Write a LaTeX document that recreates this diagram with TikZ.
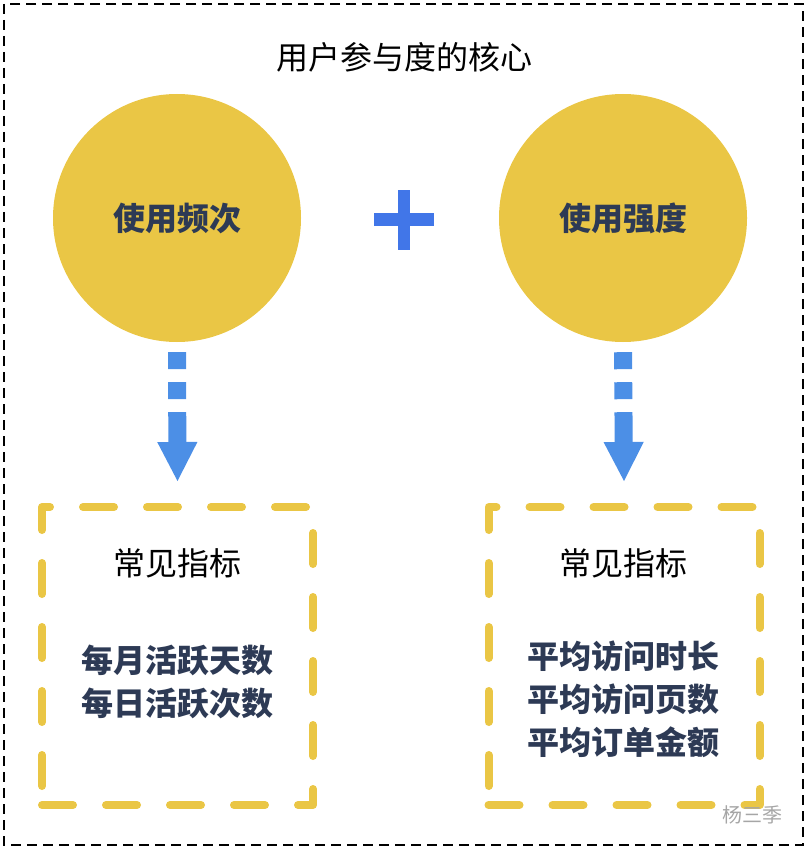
\documentclass[tikz,border=0pt]{standalone}
\usepackage{fontspec}
\newfontfamily\cjk{Noto Sans CJK SC}
\usetikzlibrary{arrows.meta}
\definecolor{coreyellow}{HTML}{EAC645}
\definecolor{corenavy}{HTML}{2D3A55}
\definecolor{plusblue}{HTML}{4176E8}
\definecolor{flowblue}{HTML}{4C8FE6}

\begin{document}
\begin{tikzpicture}[x=1pt,y=-1pt,font=\cjk\fontsize{32}{38}\selectfont,
  core/.style={circle,fill=coreyellow,minimum size=248pt,inner sep=0pt,
    text=corenavy,font=\cjk\bfseries\fontsize{32}{38}\selectfont},
  metricbox/.style={draw=coreyellow,line width=8pt,line cap=round,line join=round,
    dash pattern=on 31pt off 33pt,minimum width=271pt,minimum height=298pt},
  metrics/.style={align=center,text=corenavy,font=\cjk\bfseries\fontsize{32}{43}\selectfont},
  flow/.style={draw=flowblue,line width=18pt,
    dash pattern=on 17pt off 13pt on 17pt off 13pt on 40pt off 0pt,
    -{Triangle[length=40pt,width=37pt]}}]
\useasboundingbox (0,0) rectangle (810,850);
\draw[line width=2pt,dash pattern=on 10pt off 6pt] (4,4) rectangle (803,845);
\node (title) at (404,57) {用户参与度的核心};
% two circles and the plus
\node[core] (freq) at (177,218) {使用频次};
\node[core] (intens) at (623,218) {使用强度};
\fill[plusblue] (374,213) rectangle (434,226);
\fill[plusblue] (398,190) rectangle (410,250);
% boxes with metrics
\node[metricbox] (freqbox) at (177.5,656) {};
\node[metricbox] (intensbox) at (624,656) {};
\node (freqhead) at (177,563) {常见指标};
\node (intenshead) at (623,563) {常见指标};
\node[metrics] (freqlist) at (177,682) {每月活跃天数\\每日活跃次数};
\node[metrics] (intenslist) at (623,699) {平均访问时长\\平均访问页数\\平均订单金额};
% arrows
\draw[flow] ([yshift=-10pt]freq.south) -- ([yshift=21pt]freqbox.north);
\draw[flow] ([yshift=-10pt]intens.south) -- ([yshift=21pt]intensbox.north);
\node[text=gray!70,font=\cjk\fontsize{20}{24}\selectfont] (mark) at (752,815) {杨三季};
\end{tikzpicture}
\end{document}
